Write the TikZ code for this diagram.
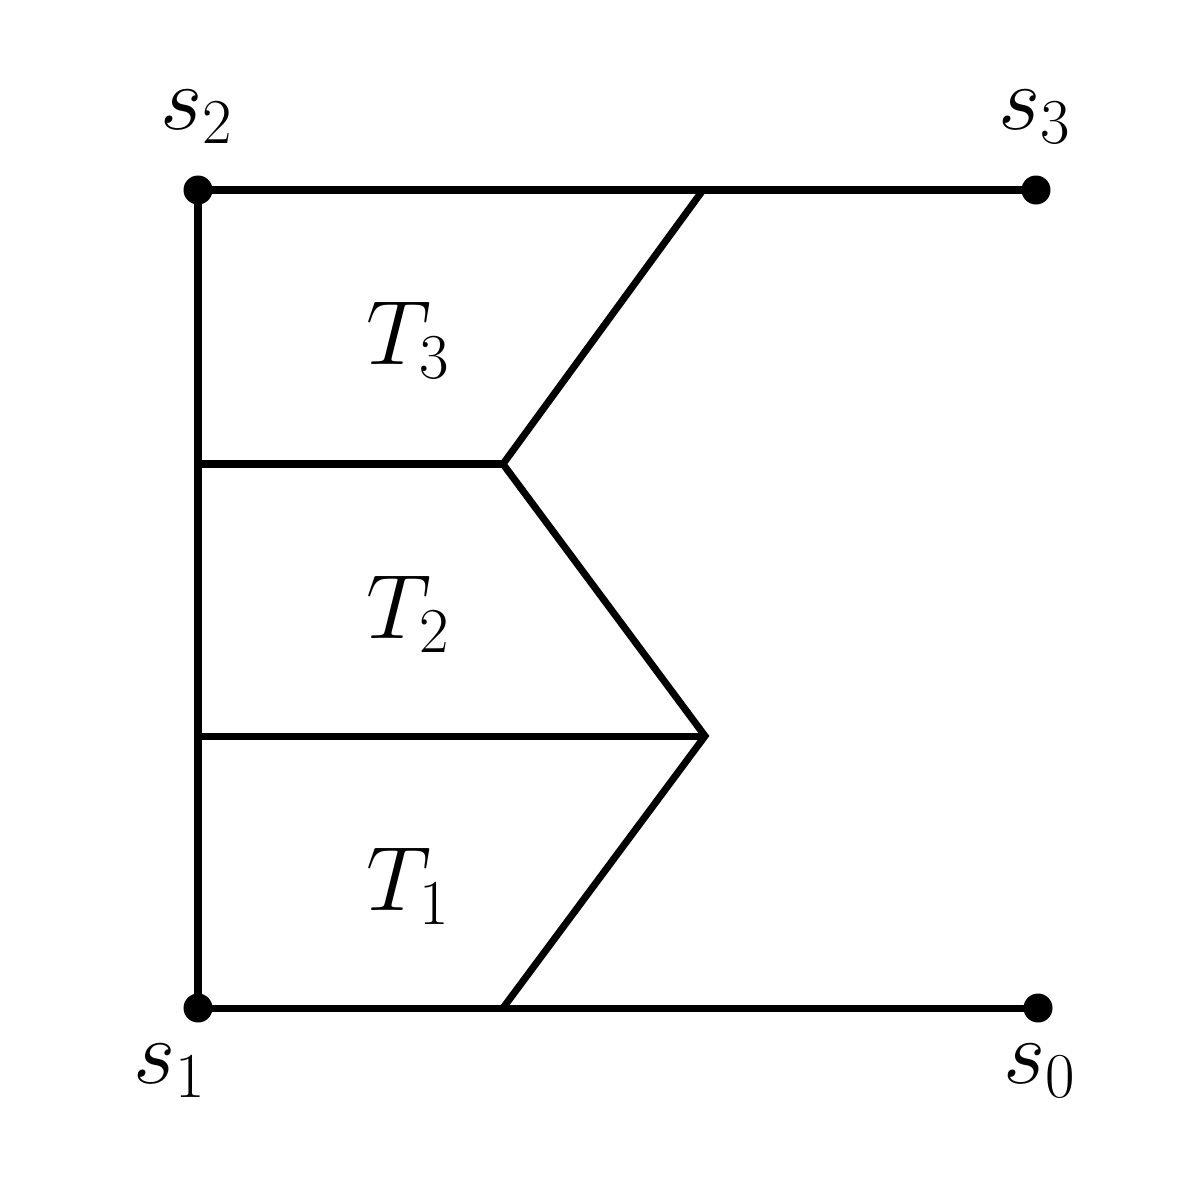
\documentclass[tikz,border=0pt]{standalone}
\usepackage{fix-cm}
\begin{document}
\begin{tikzpicture}[x=0.02cm,y=-0.02cm,line width=4pt,
  dot/.style={circle,fill,inner sep=0pt,minimum size=0.58cm},
  lbl/.style={font=\fontsize{52}{62}\selectfont,inner sep=0pt}]
\useasboundingbox (0,0) rectangle (1196,1194);
\node[dot] (s2) at (198,190) {};
\node[dot] (s3) at (1036,190) {};
\node[dot] (s1) at (198,1008) {};
\node[dot] (s0) at (1038,1008) {};
\coordinate (a) at (703,190);
\coordinate (b) at (503,464);
\coordinate (c) at (705,736);
\coordinate (d) at (503,1008);
\coordinate (lb) at (198,464);
\coordinate (lc) at (198,736);
\draw (s2.center) -- (s3.center);
\draw (s1.center) -- (s0.center);
\draw (s2.center) -- (s1.center);
\draw[line join=miter] (a) -- (b) -- (c) -- (d);
\draw (lb) -- (b);
\draw (lc) -- (c);
\node[lbl] (ls2) at (197,117) {$s_2$};
\node[lbl] (ls3) at (1035,117) {$s_3$};
\node[lbl] (ls1) at (170,1071) {$s_1$};
\node[lbl] (ls0) at (1040,1071) {$s_0$};
\node[lbl] (t3) at (408,340) {$T_3$};
\node[lbl] (t2) at (408,614) {$T_2$};
\node[lbl] (t1) at (408,886) {$T_1$};
\end{tikzpicture}
\end{document}
